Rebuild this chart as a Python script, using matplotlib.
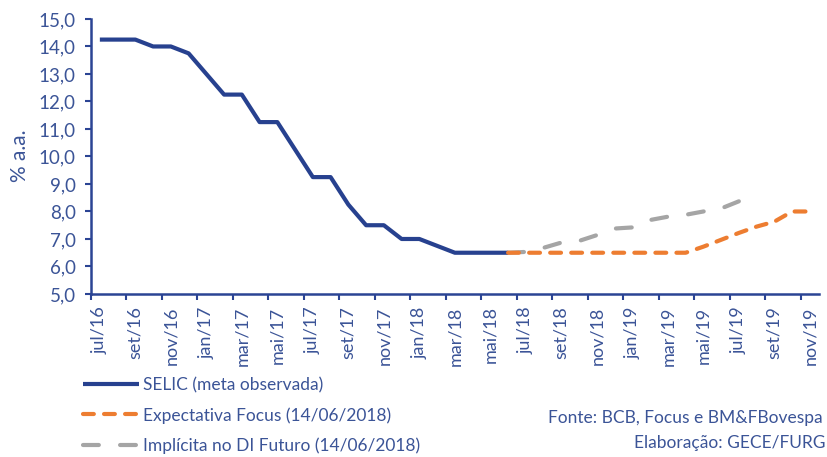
import numpy as np
import matplotlib
matplotlib.use("Agg")
import matplotlib.pyplot as plt

plt.rcParams["font.family"] = ["Lato", "DejaVu Sans"]

months = [
    "jul/16", "ago/16", "set/16", "out/16", "nov/16", "dez/16",
    "jan/17", "fev/17", "mar/17", "abr/17", "mai/17", "jun/17",
    "jul/17", "ago/17", "set/17", "out/17", "nov/17", "dez/17",
    "jan/18", "fev/18", "mar/18", "abr/18", "mai/18", "jun/18",
    "jul/18", "ago/18", "set/18", "out/18", "nov/18", "dez/18",
    "jan/19", "fev/19", "mar/19", "abr/19", "mai/19", "jun/19",
    "jul/19", "ago/19", "set/19", "out/19", "nov/19",
]

# SELIC meta observada: jul/16 .. jun/18
selic = [14.25, 14.25, 14.25, 14.0, 14.0, 13.75, 13.0, 12.25, 12.25, 11.25,
         11.25, 10.25, 9.25, 9.25, 8.25, 7.5, 7.5, 7.0, 7.0, 6.75,
         6.5, 6.5, 6.5, 6.5]

# Expectativa Focus (14/06/2018): jun/18 .. nov/19
focus = [6.5, 6.5, 6.5, 6.5, 6.5, 6.5, 6.5, 6.5, 6.5, 6.5, 6.5,
         6.72, 6.97, 7.22, 7.45, 7.63, 8.0, 8.0]

# Implicita no DI Futuro (14/06/2018): jun/18 .. jul/19
di_futuro = [6.5, 6.53, 6.68, 6.87, 6.93, 7.14, 7.38, 7.42, 7.69, 7.81,
             7.88, 8.0, 8.11, 8.37]

yticks = [5, 6, 7, 8, 9, 10, 11, 12, 13, 14, 15]

text_color = "#3B5497"
axis_color = "#2B4494"
selic_color = "#27418F"
focus_color = "#ED7D31"
di_color = "#A5A5A5"

x_selic = np.arange(len(selic))
start = months.index("jun/18")
x_focus = np.arange(start, start + len(focus))
x_di = np.arange(start, start + len(di_futuro))

fig = plt.figure(figsize=(8.27, 4.57), dpi=100)
ax = fig.add_axes([0.110, 0.3567, 0.880, 0.6018])

ax.plot(x_selic, selic, color=selic_color, linewidth=3,
        solid_capstyle="butt", label="SELIC (meta observada)", zorder=3)
ax.plot(x_di, di_futuro, color=di_color, linewidth=3, dashes=(3.8, 5.1),
        dash_capstyle="round", label="Implícita no DI Futuro (14/06/2018)", zorder=2)
ax.plot(x_focus, focus, color=focus_color, linewidth=3, dashes=(2.6, 2.45),
        dash_capstyle="round", label="Expectativa Focus (14/06/2018)", zorder=4)

ax.set_xlim(-0.5, len(months) - 0.5)
ax.set_ylim(5, 15)
ax.set_yticks(yticks)
ax.set_yticklabels([f"{v:.1f}".replace(".", ",") for v in yticks])

label_pos = np.arange(0, len(months), 2)
ax.set_xticks(label_pos)
ax.set_xticklabels([months[i] for i in label_pos], rotation=90)
ax.set_xticks(np.arange(-0.5, len(months) - 0.5, 2), minor=True)
ax.tick_params(axis="x", which="major", length=0, pad=9, labelsize=13, colors=text_color)
ax.tick_params(axis="x", which="minor", length=4, width=1.5, color=axis_color, direction="out")
ax.tick_params(axis="y", length=4, width=1.5, color=axis_color, labelsize=13.5,
               labelcolor=text_color, pad=7)

for side in ["top", "right"]:
    ax.spines[side].set_visible(False)
for side in ["left", "bottom"]:
    ax.spines[side].set_color(axis_color)
    ax.spines[side].set_linewidth(1.8)

fig.text(20 / 827, 1 - 156 / 457, "% a.a.", rotation=90, ha="center", va="center",
         fontsize=15, color=text_color)

handles, labels = ax.get_legend_handles_labels()
order = [0, 2, 1]
leg = fig.legend([handles[i] for i in order], [labels[i] for i in order],
                 loc="upper left", bbox_to_anchor=(83 / 827, 1 - 377 / 457),
                 frameon=False, borderpad=0, borderaxespad=0, fontsize=12.5,
                 handlelength=3.2, handletextpad=0.25, labelspacing=0.8)
for t in leg.get_texts():
    t.set_color(text_color)

fig.text(823 / 827, 1 - 418 / 457, "Fonte: BCB, Focus e BM&FBovespa",
         ha="right", va="center", fontsize=12.5, color=text_color)
fig.text(825 / 827, 1 - 443 / 457, "Elaboração: GECE/FURG",
         ha="right", va="center", fontsize=12.5, color=text_color)

fig.savefig("out.png", dpi=100, facecolor="white")
